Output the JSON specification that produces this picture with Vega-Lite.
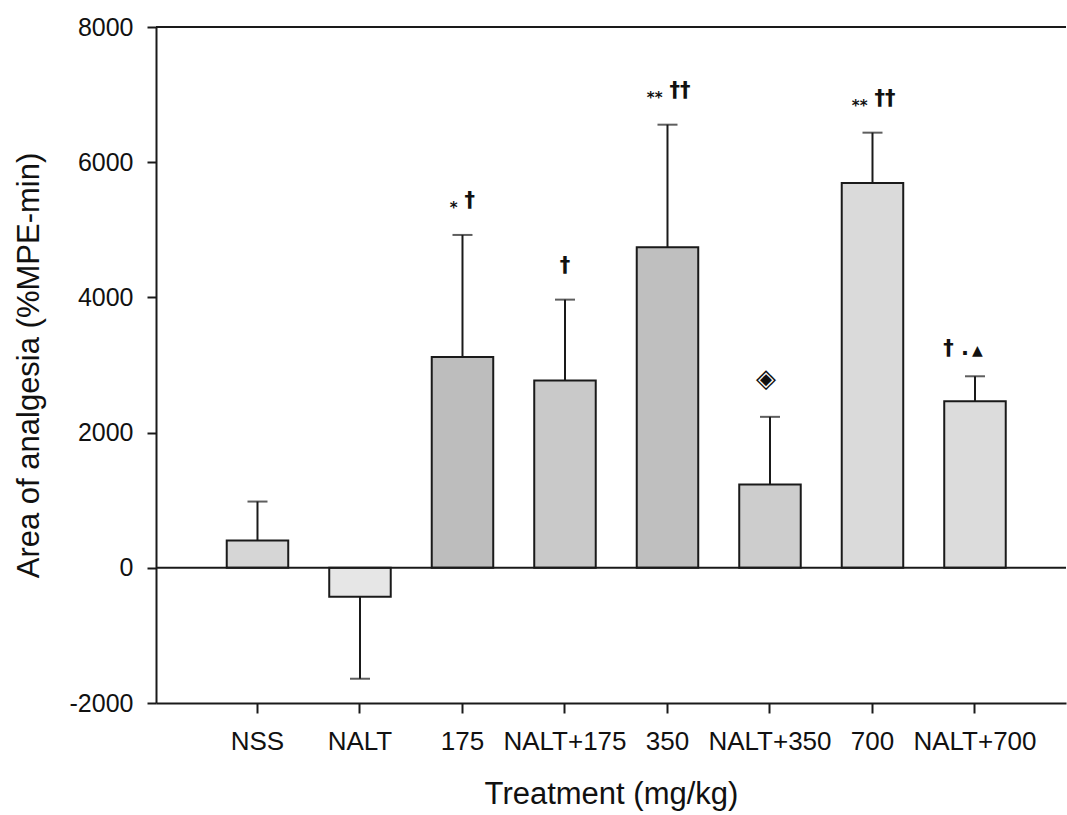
{
  "$schema": "https://vega.github.io/schema/vega-lite/v6.json",
  "width": 910,
  "height": 676,
  "autosize": {"type": "none"},
  "padding": {"left": 156, "top": 27, "right": 1, "bottom": 112},
  "background": "white",
  "config": {
    "view": {"stroke": null},
    "font": "Liberation Sans",
    "axis": {
      "grid": false,
      "domainColor": "#1a1a1a",
      "domainWidth": 2,
      "tickColor": "#1a1a1a",
      "tickWidth": 2,
      "labelColor": "#111111",
      "titleColor": "#111111",
      "labelFont": "Liberation Sans",
      "titleFont": "Liberation Sans",
      "labelFontSize": 25,
      "titleFontSize": 31,
      "titleFontWeight": "normal"
    }
  },
  "datasets": {
    "groups": [
      {"treatment": "NSS", "mean": 404, "err_end": 980},
      {"treatment": "NALT", "mean": -429, "err_end": -1641},
      {"treatment": "175", "mean": 3120, "err_end": 4924, "stars": "*", "tail": "†"},
      {"treatment": "NALT+175", "mean": 2770, "err_end": 3967, "centre": "†"},
      {"treatment": "350", "mean": 4741, "err_end": 6555, "stars": "**", "tail": "††"},
      {"treatment": "NALT+350", "mean": 1232, "err_end": 2233, "ring": "◈"},
      {"treatment": "700", "mean": 5693, "err_end": 6437, "stars": "**", "tail": "††"},
      {"treatment": "NALT+700", "mean": 2464, "err_end": 2833, "lead": "† .", "tri": "▲"}
    ]
  },
  "data": {"name": "groups"},
  "layer": [
    {
      "mark": {"type": "bar", "stroke": "#1a1a1a", "strokeWidth": 2},
      "encoding": {
        "x": {
          "field": "treatment",
          "type": "nominal",
          "sort": null,
          "scale": {"paddingInner": 0.4, "paddingOuter": 0.639, "align": 0.54},
          "axis": {
            "title": "Treatment (mg/kg)",
            "labelAngle": 0,
            "labelFontSize": 26,
            "tickSize": 10,
            "labelPadding": 15,
            "titlePadding": 25,
            "labelOverlap": false
          }
        },
        "y": {
          "field": "mean",
          "type": "quantitative",
          "scale": {"domain": [-2000, 8000], "nice": false, "zero": false},
          "axis": {
            "title": "Area of analgesia (%MPE-min)",
            "values": [-2000, 0, 2000, 4000, 6000, 8000],
            "labelExpr": "'' + datum.value",
            "tickSize": 9,
            "labelPadding": 14,
            "titlePadding": 24
          }
        },
        "y2": {"datum": 0},
        "fill": {
          "field": "treatment",
          "type": "nominal",
          "sort": null,
          "legend": null,
          "scale": {
            "domain": ["NSS", "NALT", "175", "NALT+175", "350", "NALT+350", "700", "NALT+700"],
            "range": ["#d6d6d6", "#e6e6e6", "#bdbdbd", "#c9c9c9", "#bfbfbf", "#cdcdcd", "#dadada", "#dcdcdc"]
          }
        }
      }
    },
    {
      "mark": {"type": "rule", "color": "#1a1a1a", "strokeWidth": 2},
      "encoding": {
        "x": {"field": "treatment", "type": "nominal", "sort": null},
        "y": {"field": "mean", "type": "quantitative"},
        "y2": {"field": "err_end"}
      }
    },
    {
      "mark": {"type": "tick", "color": "#1a1a1a", "thickness": 2, "size": 20, "orient": "horizontal"},
      "encoding": {
        "x": {"field": "treatment", "type": "nominal", "sort": null},
        "y": {"field": "err_end", "type": "quantitative"}
      }
    },
    {
      "data": {"values": [{"level": 0}, {"level": 8000}]},
      "mark": {"type": "rule", "color": "#1a1a1a", "strokeWidth": 2},
      "encoding": {"y": {"field": "level", "type": "quantitative"}}
    },
    {
      "transform": [{"filter": "isValid(datum.stars)"}],
      "mark": {"type": "text", "font": "DejaVu Sans", "fontSize": 15, "fontWeight": "bold", "align": "right", "baseline": "middle", "dx": -5, "dy": -27, "color": "#111111"},
      "encoding": {
        "x": {"field": "treatment", "type": "nominal", "sort": null},
        "y": {"field": "err_end", "type": "quantitative"},
        "text": {"field": "stars"}
      }
    },
    {
      "transform": [{"filter": "isValid(datum.tail)"}],
      "mark": {"type": "text", "font": "DejaVu Sans", "fontSize": 21, "fontWeight": "bold", "align": "left", "baseline": "middle", "dx": 2, "dy": -34, "color": "#111111"},
      "encoding": {
        "x": {"field": "treatment", "type": "nominal", "sort": null},
        "y": {"field": "err_end", "type": "quantitative"},
        "text": {"field": "tail"}
      }
    },
    {
      "transform": [{"filter": "isValid(datum.centre)"}],
      "mark": {"type": "text", "font": "DejaVu Sans", "fontSize": 21, "fontWeight": "bold", "align": "center", "baseline": "middle", "dy": -34, "color": "#111111"},
      "encoding": {
        "x": {"field": "treatment", "type": "nominal", "sort": null},
        "y": {"field": "err_end", "type": "quantitative"},
        "text": {"field": "centre"}
      }
    },
    {
      "transform": [{"filter": "isValid(datum.ring)"}],
      "mark": {"type": "text", "font": "DejaVu Sans", "fontSize": 26, "align": "center", "baseline": "middle", "dx": -4, "dy": -38, "color": "#111111"},
      "encoding": {
        "x": {"field": "treatment", "type": "nominal", "sort": null},
        "y": {"field": "err_end", "type": "quantitative"},
        "text": {"field": "ring"}
      }
    },
    {
      "transform": [{"filter": "isValid(datum.lead)"}],
      "mark": {"type": "text", "font": "DejaVu Sans", "fontSize": 21, "fontWeight": "bold", "align": "right", "baseline": "middle", "dx": -6, "dy": -27, "color": "#111111"},
      "encoding": {
        "x": {"field": "treatment", "type": "nominal", "sort": null},
        "y": {"field": "err_end", "type": "quantitative"},
        "text": {"field": "lead"}
      }
    },
    {
      "transform": [{"filter": "isValid(datum.tri)"}],
      "mark": {"type": "text", "font": "DejaVu Sans", "fontSize": 14, "align": "left", "baseline": "middle", "dx": -3, "dy": -25, "color": "#111111"},
      "encoding": {
        "x": {"field": "treatment", "type": "nominal", "sort": null},
        "y": {"field": "err_end", "type": "quantitative"},
        "text": {"field": "tri"}
      }
    }
  ]
}
